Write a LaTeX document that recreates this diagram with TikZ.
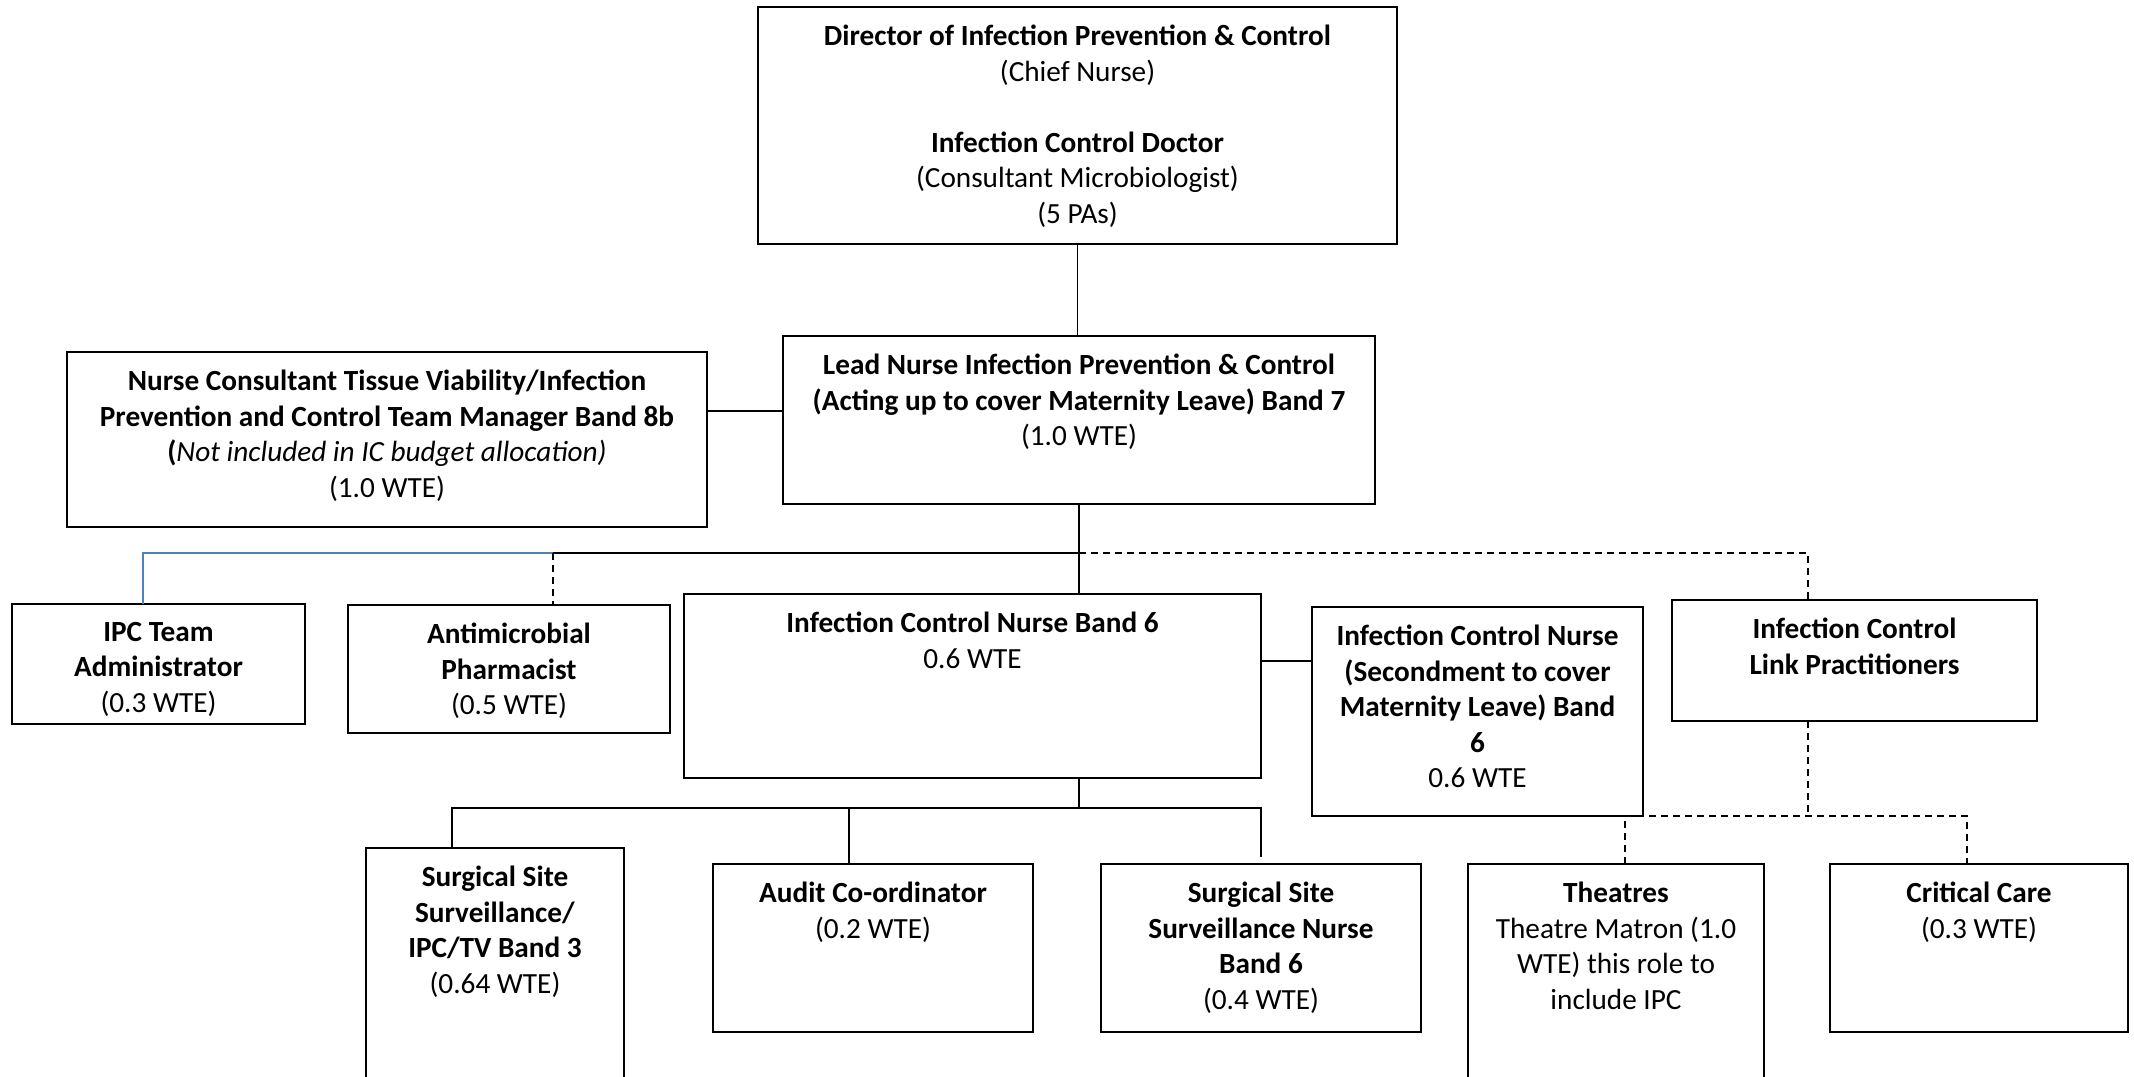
\documentclass[tikz,border=0pt]{standalone}
\usepackage{fontspec}
\setmainfont{Carlito}
\usepackage{tikz}
\usetikzlibrary{positioning}
\definecolor{lineblue}{HTML}{4F81BD}

\begin{document}
\begin{tikzpicture}[x=0.4pt,y=-0.4pt,
		orgbox/.style={draw=black,line width=0.8pt,outer sep=0pt,anchor=north west},
		boxtext/.style={align=center,inner sep=0pt,font=\fontsize{11.7}{14.2}\selectfont},
		solidline/.style={line width=0.6pt},
		dashline/.style={line width=0.6pt,dash pattern=on 2.8pt off 2pt}]
		\useasboundingbox (0,0) rectangle (2134,1077);
		\clip (0,0) rectangle (2134,1077);

		\node[orgbox,minimum width=255.6pt,minimum height=94.8pt] (dir) at (758,7) {};
		\node[orgbox,minimum width=236.8pt,minimum height=67.2pt] (lead) at (783,336) {};
		\node[orgbox,minimum width=256pt,minimum height=70pt] (cons) at (67,352) {};
		\node[orgbox,minimum width=117.2pt,minimum height=48pt] (ipc) at (12,604) {};
		\node[orgbox,minimum width=128.8pt,minimum height=51.2pt] (amp) at (348,605) {};
		\node[orgbox,minimum width=230.8pt,minimum height=73.6pt] (icn) at (684,594) {};
		\node[orgbox,minimum width=132.4pt,minimum height=83.6pt] (sec) at (1312,607) {};
		\node[orgbox,minimum width=146pt,minimum height=48.4pt] (link) at (1672,600) {};
		\node[orgbox,minimum width=103.2pt,minimum height=96.8pt] (ssi) at (366,848) {};
		\node[orgbox,minimum width=128pt,minimum height=67.2pt] (aud) at (713,864) {};
		\node[orgbox,minimum width=128pt,minimum height=67.2pt] (ssn) at (1101,864) {};
		\node[orgbox,minimum width=118.4pt,minimum height=90.4pt] (thea) at (1468,864) {};
		\node[orgbox,minimum width=119.2pt,minimum height=67.2pt] (crit) at (1830,864) {};

		\node[boxtext,below=7pt of dir.north] (dirtx) {\textbf{Director of Infection Prevention \& Control}\\(Chief Nurse)\\[14.2pt]\textbf{Infection Control Doctor}\\(Consultant Microbiologist)\\(5 PAs)};
		\node[boxtext,below=7pt of lead.north] (leadtx) {\textbf{Lead Nurse Infection Prevention \& Control}\\\textbf{(Acting up to cover Maternity Leave) Band 7}\\(1.0 WTE)};
		\node[boxtext,below=7pt of cons.north] (constx) {\textbf{Nurse Consultant Tissue Viability/Infection}\\\textbf{Prevention and Control Team Manager Band 8b}\\\textbf{(}\textit{Not included in IC budget allocation)}\\(1.0 WTE)};
		\node[boxtext,below=7pt of ipc.north] (ipctx) {\textbf{IPC Team}\\\textbf{Administrator}\\(0.3 WTE)};
		\node[boxtext,below=7pt of amp.north] (amptx) {\textbf{Antimicrobial}\\\textbf{Pharmacist}\\(0.5 WTE)};
		\node[boxtext,below=7pt of icn.north] (icntx) {\textbf{Infection Control Nurse Band 6}\\0.6 WTE};
		\node[boxtext,below=7pt of sec.north] (sectx) {\textbf{Infection Control Nurse}\\\textbf{(Secondment to cover}\\\textbf{Maternity Leave) Band}\\\textbf{6}\\0.6 WTE};
		\node[boxtext,below=7pt of link.north] (linktx) {\textbf{Infection Control}\\\textbf{Link Practitioners}};
		\node[boxtext,below=7pt of ssi.north] (ssitx) {\textbf{Surgical Site}\\\textbf{Surveillance/}\\\textbf{IPC/TV Band 3}\\(0.64 WTE)};
		\node[boxtext,below=7pt of aud.north] (audtx) {\textbf{Audit Co-ordinator}\\(0.2 WTE)};
		\node[boxtext,below=7pt of ssn.north] (ssntx) {\textbf{Surgical Site}\\\textbf{Surveillance Nurse}\\\textbf{Band 6}\\(0.4 WTE)};
		\node[boxtext,below=7pt of thea.north] (theatx) {\textbf{Theatres}\\Theatre Matron (1.0\\WTE) this role to\\include IPC};
		\node[boxtext,below=7pt of crit.north] (crittx) {\textbf{Critical Care}\\(0.3 WTE)};

		\path (lead.south) ++(0,49) coordinate (hub);
		\path (icn.south -| hub) ++(0,30) coordinate (sub);

		\draw[solidline] (dir.south) -- (dir.south |- lead.north);
		\draw[line width=0.9pt] ([yshift=3.6pt]lead.west) -- ([yshift=3.6pt]lead.west -| cons.east);
		\draw[solidline] (lead.south) -- (lead.south |- icn.north);
		\draw[solidline] (hub) -- ([xshift=17.6pt]amp.north |- hub);
		\draw[lineblue,line width=0.8pt] ([xshift=-6.2pt]ipc.north) |- ([xshift=17.6pt]amp.north |- hub);
		\draw[dashline] ([xshift=17.6pt]amp.north |- hub) -- ([xshift=17.6pt]amp.north);
		\draw[dashline] (hub) -| ([xshift=-18.6pt]link.north);
		\draw[line width=0.9pt] ([yshift=10pt]icn.east) -- ([yshift=10pt]icn.east -| sec.west);
		\draw[solidline] (icn.south -| hub) -- (sub);
		\draw[solidline] ([xshift=-17.2pt]ssi.north) |- (ssn.north |- sub) -- ([yshift=2.8pt]ssn.north);
		\draw[solidline] ([xshift=-9.6pt]aud.north) -- ([xshift=-9.6pt]aud.north |- sub);
		\draw[dashline] ([xshift=-18.6pt]link.south) -- ([xshift=-18.6pt]link.south |- sec.south);
		\draw[dashline] ([xshift=3.6pt]thea.north) |- ([xshift=-4.8pt]crit.north |- sec.south) -- ([xshift=-4.8pt]crit.north);
	\end{tikzpicture}
\end{document}
